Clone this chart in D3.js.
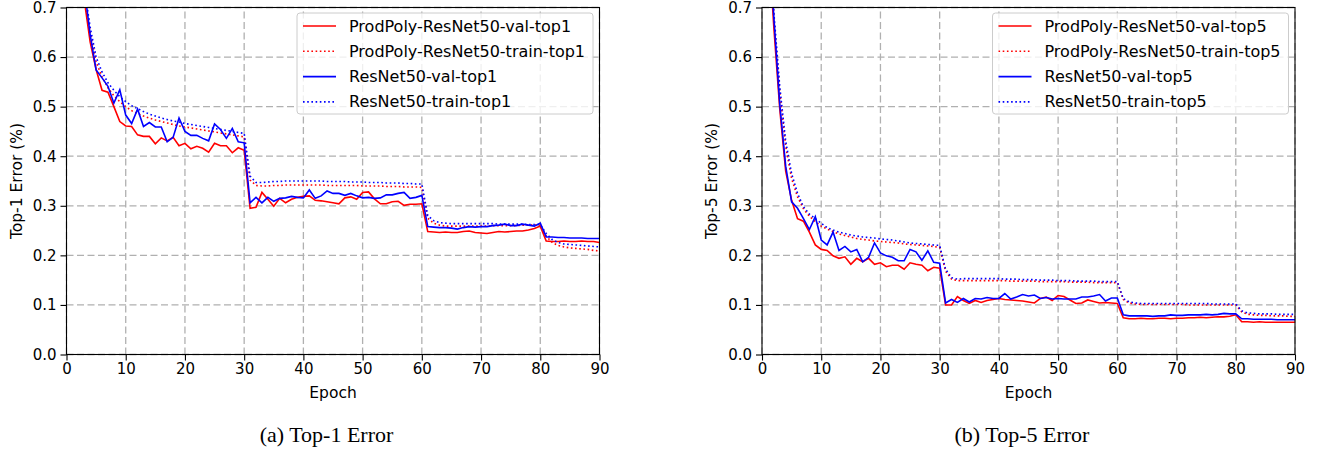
<!DOCTYPE html>
<html>
<head>
<meta charset="utf-8">
<script src="https://cdn.jsdelivr.net/npm/d3@7"></script>
<style>
  body { margin: 0; background: #fff; }
  text { font-family: "DejaVu Sans", sans-serif; }
</style>
</head>
<body>
<div id="chart"></div>
<script>
// values, one entry per epoch (1..90)
const xTicks = [0, 10, 20, 30, 40, 50, 60, 70, 80, 90]
const yTicks = [0.0, 0.1, 0.2, 0.3, 0.4, 0.5, 0.6, 0.7]

const top1ProdVal = [
  0.95, 0.80, 0.715, 0.63, 0.575, 0.533, 0.529, 0.500, 0.470, 0.461,
  0.460, 0.443, 0.440, 0.440, 0.425, 0.437, 0.431, 0.438, 0.421, 0.426,
  0.415, 0.420, 0.416, 0.408, 0.426, 0.421, 0.421, 0.407, 0.417, 0.412,
  0.295, 0.297, 0.327, 0.313, 0.299, 0.315, 0.306, 0.313, 0.317, 0.319,
  0.320, 0.311, 0.310, 0.308, 0.306, 0.304, 0.316, 0.318, 0.313, 0.327,
  0.328, 0.314, 0.304, 0.304, 0.308, 0.309, 0.301, 0.303, 0.303, 0.304,
  0.248, 0.247, 0.246, 0.247, 0.246, 0.246, 0.248, 0.249, 0.246, 0.245,
  0.244, 0.246, 0.248, 0.247, 0.248, 0.249, 0.249, 0.251, 0.254, 0.259,
  0.229, 0.228, 0.228, 0.229, 0.228, 0.228, 0.229, 0.228, 0.228, 0.226
]
const top1ProdTrain = [
  0.98, 0.84, 0.73, 0.65, 0.59, 0.56, 0.538, 0.522, 0.510, 0.500,
  0.492, 0.486, 0.481, 0.477, 0.473, 0.470, 0.467, 0.464, 0.461, 0.459,
  0.457, 0.455, 0.453, 0.451, 0.449, 0.447, 0.445, 0.443, 0.441, 0.439,
  0.352, 0.341, 0.340, 0.340, 0.341, 0.341, 0.342, 0.342, 0.342, 0.342,
  0.342, 0.342, 0.342, 0.341, 0.341, 0.341, 0.341, 0.341, 0.341, 0.340,
  0.340, 0.340, 0.340, 0.339, 0.339, 0.339, 0.338, 0.338, 0.338, 0.337,
  0.275, 0.265, 0.261, 0.259, 0.259, 0.259, 0.259, 0.259, 0.259, 0.259,
  0.259, 0.260, 0.260, 0.260, 0.260, 0.260, 0.261, 0.261, 0.261, 0.261,
  0.239, 0.226, 0.220, 0.217, 0.215, 0.214, 0.213, 0.212, 0.210, 0.209
]
const top1ResVal = [
  0.97, 0.83, 0.74, 0.645, 0.574, 0.558, 0.541, 0.507, 0.534, 0.483,
  0.466, 0.495, 0.460, 0.468, 0.459, 0.459, 0.429, 0.438, 0.477, 0.450,
  0.442, 0.442, 0.436, 0.431, 0.465, 0.454, 0.436, 0.456, 0.429, 0.427,
  0.306, 0.317, 0.306, 0.317, 0.309, 0.315, 0.316, 0.319, 0.317, 0.316,
  0.332, 0.315, 0.320, 0.330, 0.325, 0.325, 0.321, 0.325, 0.320, 0.316,
  0.317, 0.315, 0.316, 0.322, 0.322, 0.325, 0.327, 0.315, 0.317, 0.321,
  0.258, 0.257, 0.256, 0.256, 0.255, 0.253, 0.256, 0.258, 0.257, 0.258,
  0.258, 0.260, 0.261, 0.263, 0.260, 0.260, 0.263, 0.261, 0.259, 0.265,
  0.237, 0.237, 0.236, 0.236, 0.235, 0.235, 0.235, 0.234, 0.234, 0.234
]
const top1ResTrain = [
  0.99, 0.85, 0.74, 0.66, 0.60, 0.57, 0.548, 0.533, 0.520, 0.510,
  0.502, 0.496, 0.490, 0.485, 0.481, 0.477, 0.474, 0.471, 0.469, 0.466,
  0.464, 0.462, 0.460, 0.458, 0.456, 0.454, 0.452, 0.450, 0.448, 0.446,
  0.360, 0.347, 0.347, 0.348, 0.349, 0.349, 0.350, 0.350, 0.350, 0.350,
  0.350, 0.350, 0.350, 0.349, 0.349, 0.349, 0.349, 0.348, 0.348, 0.348,
  0.347, 0.347, 0.347, 0.346, 0.346, 0.346, 0.345, 0.345, 0.344, 0.344,
  0.280, 0.270, 0.266, 0.265, 0.264, 0.264, 0.264, 0.264, 0.264, 0.264,
  0.264, 0.264, 0.263, 0.263, 0.263, 0.263, 0.263, 0.262, 0.262, 0.262,
  0.244, 0.232, 0.226, 0.223, 0.222, 0.221, 0.220, 0.219, 0.218, 0.217
]

const top5ProdVal = [
  0.85, 0.66, 0.495, 0.37, 0.311, 0.274, 0.269, 0.247, 0.221, 0.212,
  0.210, 0.199, 0.194, 0.197, 0.182, 0.194, 0.187, 0.194, 0.182, 0.185,
  0.177, 0.180, 0.180, 0.172, 0.185, 0.182, 0.180, 0.169, 0.176, 0.174,
  0.100, 0.100, 0.117, 0.109, 0.103, 0.109, 0.105, 0.109, 0.111, 0.113,
  0.111, 0.110, 0.109, 0.108, 0.106, 0.104, 0.113, 0.116, 0.109, 0.119,
  0.117, 0.110, 0.103, 0.104, 0.110, 0.107, 0.104, 0.105, 0.104, 0.103,
  0.074, 0.072, 0.072, 0.073, 0.072, 0.072, 0.073, 0.073, 0.072, 0.073,
  0.073, 0.074, 0.074, 0.075, 0.074, 0.075, 0.076, 0.076, 0.077, 0.080,
  0.066, 0.066, 0.065, 0.066, 0.065, 0.065, 0.065, 0.065, 0.065, 0.065
]
const top5ProdTrain = [
  0.95, 0.68, 0.53, 0.42, 0.355, 0.318, 0.294, 0.279, 0.268, 0.259,
  0.253, 0.248, 0.243, 0.240, 0.237, 0.234, 0.232, 0.231, 0.229, 0.228,
  0.227, 0.226, 0.225, 0.223, 0.222, 0.221, 0.220, 0.219, 0.218, 0.216,
  0.168, 0.152, 0.149, 0.149, 0.149, 0.149, 0.149, 0.149, 0.149, 0.149,
  0.149, 0.148, 0.148, 0.148, 0.148, 0.148, 0.147, 0.147, 0.147, 0.147,
  0.147, 0.146, 0.146, 0.146, 0.146, 0.145, 0.145, 0.145, 0.145, 0.145,
  0.111, 0.104, 0.102, 0.101, 0.101, 0.101, 0.101, 0.101, 0.101, 0.101,
  0.101, 0.100, 0.100, 0.100, 0.100, 0.100, 0.100, 0.100, 0.100, 0.100,
  0.086, 0.081, 0.080, 0.079, 0.079, 0.078, 0.078, 0.078, 0.077, 0.077
]
const top5ResVal = [
  0.87, 0.68, 0.505, 0.38, 0.308, 0.295, 0.274, 0.252, 0.278, 0.231,
  0.221, 0.247, 0.210, 0.218, 0.207, 0.212, 0.187, 0.196, 0.225, 0.205,
  0.199, 0.196, 0.189, 0.189, 0.212, 0.207, 0.190, 0.209, 0.186, 0.184,
  0.104, 0.111, 0.105, 0.113, 0.106, 0.113, 0.112, 0.115, 0.113, 0.113,
  0.123, 0.112, 0.116, 0.121, 0.118, 0.120, 0.113, 0.115, 0.112, 0.113,
  0.112, 0.112, 0.112, 0.116, 0.116, 0.118, 0.121, 0.108, 0.114, 0.114,
  0.080, 0.078, 0.078, 0.078, 0.078, 0.077, 0.078, 0.078, 0.080, 0.079,
  0.079, 0.080, 0.080, 0.080, 0.081, 0.080, 0.081, 0.083, 0.082, 0.082,
  0.072, 0.072, 0.071, 0.071, 0.071, 0.071, 0.070, 0.070, 0.070, 0.070
]
const top5ResTrain = [
  0.96, 0.69, 0.54, 0.43, 0.365, 0.325, 0.298, 0.283, 0.274, 0.265,
  0.256, 0.251, 0.247, 0.244, 0.241, 0.239, 0.237, 0.236, 0.235, 0.233,
  0.232, 0.231, 0.229, 0.227, 0.225, 0.224, 0.223, 0.222, 0.221, 0.220,
  0.172, 0.155, 0.152, 0.153, 0.153, 0.153, 0.153, 0.153, 0.153, 0.153,
  0.152, 0.152, 0.152, 0.151, 0.151, 0.151, 0.150, 0.150, 0.150, 0.149,
  0.149, 0.149, 0.148, 0.148, 0.148, 0.148, 0.147, 0.147, 0.147, 0.147,
  0.113, 0.106, 0.104, 0.103, 0.103, 0.103, 0.103, 0.103, 0.103, 0.103,
  0.103, 0.103, 0.103, 0.103, 0.103, 0.102, 0.102, 0.102, 0.102, 0.102,
  0.088, 0.084, 0.083, 0.082, 0.082, 0.082, 0.081, 0.081, 0.081, 0.081
]

const red = "#ff0000"
const blue = "#0000ff"

const width = 1318
const height = 450

const svg = d3.select("#chart")
  .append("svg")
  .attr("width", width)
  .attr("height", height)

// one panel = one matplotlib subplot
const drawPanel = (opt) => {
  const x = d3.scaleLinear().domain([0, 90]).range([opt.left, opt.left + 533])
  const y = d3.scaleLinear().domain([0, 0.7]).range([354.5, 7.5])
  const g = svg.append("g")

  // dashed grid
  g.append("g").selectAll("line").data(xTicks).join("line")
    .attr("x1", d => x(d)).attr("x2", d => x(d))
    .attr("y1", y(0)).attr("y2", y(0.7))
    .attr("stroke", "#b0b0b0").attr("stroke-width", 1.3).attr("stroke-dasharray", "7,3.5")
  g.append("g").selectAll("line").data(yTicks).join("line")
    .attr("x1", x(0)).attr("x2", x(90))
    .attr("y1", d => y(d)).attr("y2", d => y(d))
    .attr("stroke", "#b0b0b0").attr("stroke-width", 1.3).attr("stroke-dasharray", "7,3.5")

  const clipId = "clip-" + opt.id
  g.append("clipPath").attr("id", clipId)
    .append("rect")
    .attr("x", x(0)).attr("y", y(0.7))
    .attr("width", x(90) - x(0)).attr("height", y(0) - y(0.7))

  const line = d3.line()
    .x((d, i) => x(i + 1))
    .y(d => y(d))

  const lines = g.append("g").attr("clip-path", "url(#" + clipId + ")")
  opt.series.forEach(s => {
    lines.append("path")
      .datum(s.values)
      .attr("d", line)
      .attr("fill", "none")
      .attr("stroke", s.colour)
      .attr("stroke-width", 1.6)
      .attr("stroke-dasharray", s.dotted ? "1.6,2.6" : null)
  })

  // axes
  const xAxis = g.append("g")
    .attr("transform", "translate(0," + y(0) + ")")
    .call(d3.axisBottom(x).tickValues(xTicks).tickSize(6).tickPadding(3))
  const yAxis = g.append("g")
    .attr("transform", "translate(" + x(0) + ",0)")
    .call(d3.axisLeft(y).tickValues(yTicks).tickFormat(d3.format(".1f")).tickSize(6).tickPadding(4))
  ;[xAxis, yAxis].forEach(a => {
    a.select(".domain").remove()
    a.selectAll("text").style("font-size", "15px").style("font-family", "DejaVu Sans").attr("fill", "#000")
    a.selectAll("line").attr("stroke", "#000").attr("stroke-width", 1.1)
  })

  // frame
  g.append("rect")
    .attr("x", x(0)).attr("y", y(0.7))
    .attr("width", x(90) - x(0)).attr("height", y(0) - y(0.7))
    .attr("fill", "none").attr("stroke", "#000").attr("stroke-width", 1.1)

  // labels
  g.append("text")
    .attr("x", (x(0) + x(90)) / 2).attr("y", 393)
    .attr("text-anchor", "middle").attr("dominant-baseline", "central")
    .style("font-size", "15.5px")
    .text("Epoch")
  g.append("text")
    .attr("transform", "translate(" + (opt.left - 50) + "," + ((y(0) + y(0.7)) / 2) + ") rotate(-90)")
    .attr("text-anchor", "middle").attr("dominant-baseline", "central")
    .style("font-size", "15.5px")
    .text(opt.ylabel)
  g.append("text")
    .attr("x", opt.left + 260).attr("y", 434)
    .attr("text-anchor", "middle").attr("dominant-baseline", "central")
    .style("font-family", "Liberation Serif").style("font-size", "22px")
    .text(opt.caption)

  // legend
  const lg = g.append("g").attr("transform", "translate(" + (opt.left + 230.5) + ",13)")
  lg.append("rect")
    .attr("width", 296).attr("height", 101).attr("rx", 3)
    .attr("fill", "#fff").attr("fill-opacity", 0.8)
    .attr("stroke", "#cccccc")
  opt.series.forEach((s, i) => {
    const yy = 13 + i * 25.3
    lg.append("line")
      .attr("x1", 6).attr("x2", 39).attr("y1", yy).attr("y2", yy)
      .attr("stroke", s.colour).attr("stroke-width", 1.6)
      .attr("stroke-dasharray", s.dotted ? "1.6,2.6" : null)
    lg.append("text")
      .attr("x", 52).attr("y", yy)
      .attr("dominant-baseline", "central")
      .style("font-size", "16px")
      .text(s.name)
  })
}

drawPanel({
  id: "a", left: 66.5, ylabel: "Top-1 Error (%)", caption: "(a) Top-1 Error",
  series: [
    { name: "ProdPoly-ResNet50-val-top1", values: top1ProdVal, colour: red, dotted: false },
    { name: "ProdPoly-ResNet50-train-top1", values: top1ProdTrain, colour: red, dotted: true },
    { name: "ResNet50-val-top1", values: top1ResVal, colour: blue, dotted: false },
    { name: "ResNet50-train-top1", values: top1ResTrain, colour: blue, dotted: true }
  ]
})

drawPanel({
  id: "b", left: 762, ylabel: "Top-5 Error (%)", caption: "(b) Top-5 Error",
  series: [
    { name: "ProdPoly-ResNet50-val-top5", values: top5ProdVal, colour: red, dotted: false },
    { name: "ProdPoly-ResNet50-train-top5", values: top5ProdTrain, colour: red, dotted: true },
    { name: "ResNet50-val-top5", values: top5ResVal, colour: blue, dotted: false },
    { name: "ResNet50-train-top5", values: top5ResTrain, colour: blue, dotted: true }
  ]
})
</script>
</body>
</html>
